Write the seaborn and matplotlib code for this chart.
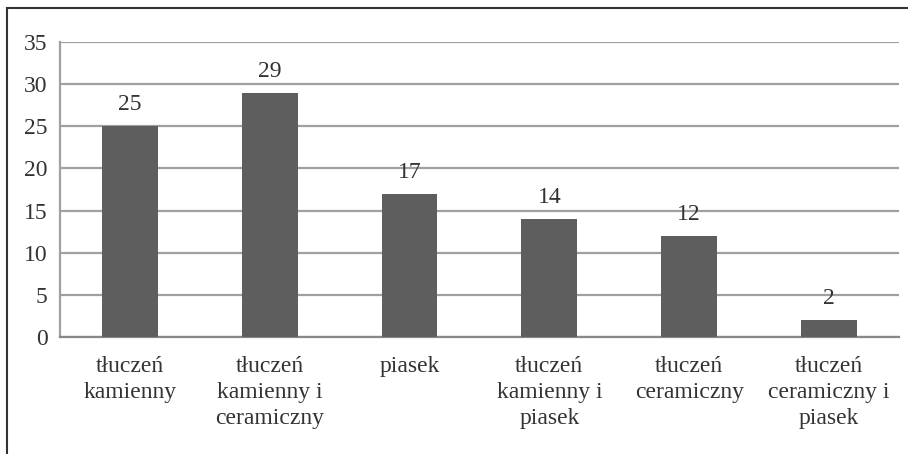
import numpy as np
import pandas as pd
import matplotlib.pyplot as plt
import seaborn as sns
from matplotlib.patches import Rectangle

# Chart data
categories = [
    "tłuczeń\nkamienny",
    "tłuczeń\nkamienny i\nceramiczny",
    "piasek",
    "tłuczeń\nkamienny i\npiasek",
    "tłuczeń\nceramiczny",
    "tłuczeń\nceramiczny i\npiasek",
]
values = [25, 29, 17, 14, 12, 2]
y_ticks = [0, 5, 10, 15, 20, 25, 30, 35]

df = pd.DataFrame({"kategoria": categories, "liczba": values})

sns.set_style("white")
plt.rcParams['font.family'] = ['Liberation Serif', 'DejaVu Serif']

fig = plt.figure(figsize=(9.08, 4.54), dpi=100)
ax = fig.add_axes([0.066, 0.258, 0.924, 0.649])

sns.barplot(data=df, x="kategoria", y="liczba", color="#5e5e5e",
            width=0.4, saturation=1, linewidth=0, ax=ax, zorder=3)

ax.set_ylim(0, 35)
ax.set_xlim(-0.5, len(categories) - 0.5)
ax.set_yticks(y_ticks)
ax.set_yticklabels([str(t) for t in y_ticks], fontsize=17, color="#333333")
ax.grid(axis="y", color="#a0a0a0", linewidth=1.6, zorder=0)
ax.set_xlabel("")
ax.set_ylabel("")

# category labels centred, with boundary ticks on the axis
ax.set_xticks(range(len(categories)))
ax.set_xticklabels(categories, fontsize=17, color="#333333", linespacing=1.3)
ax.tick_params(axis="x", which="major", length=0, pad=14)
ax.set_xticks(np.arange(-0.5, len(categories)), minor=True)
ax.tick_params(axis="x", which="minor", length=5, color="#888888", width=1.4)
ax.tick_params(axis="y", length=5, color="#a0a0a0", width=1.6, pad=4)

for side in ["top", "right"]:
    ax.spines[side].set_visible(False)
ax.spines["left"].set_color("#a0a0a0")
ax.spines["bottom"].set_color("#888888")
ax.spines["left"].set_linewidth(1.6)
ax.spines["bottom"].set_linewidth(1.6)

for i, v in enumerate(values):
    ax.annotate(str(v), (i, v), xytext=(0, 8), textcoords="offset points",
                ha="center", va="bottom", fontsize=17, color="#333333")

# outer frame (top and left edges visible)
fig.patches.append(Rectangle((7 / 908, -0.1), 1.2, 1 - 8 / 454 + 0.1,
                             transform=fig.transFigure, fill=False,
                             edgecolor="#333333", linewidth=1.5))

fig.savefig("out.png", dpi=100)
